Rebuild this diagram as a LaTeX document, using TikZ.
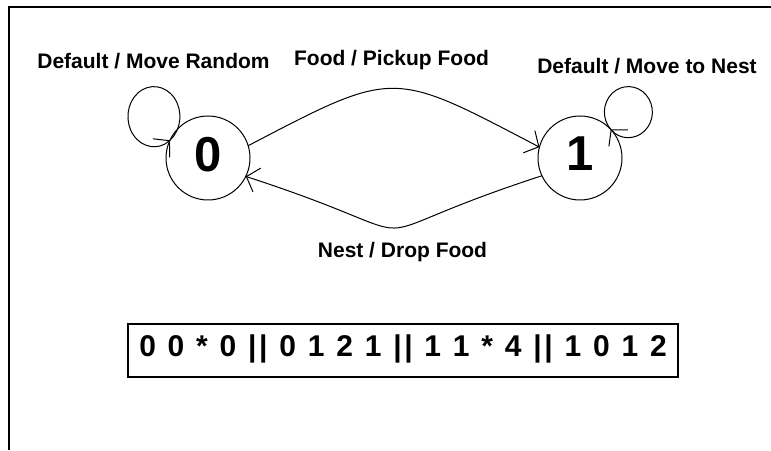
\documentclass[tikz,border=0pt]{standalone}
\usepackage{fontspec}
\setmainfont{Liberation Sans}
\usetikzlibrary{arrows.meta}
\begin{document}
\begin{tikzpicture}[x=1pt,y=1pt,
  state/.style={circle,draw,line width=1pt,minimum size=84pt,inner sep=0pt,outer sep=0pt,
    font=\fontsize{49}{49}\selectfont\bfseries,text depth=8pt},
  trans/.style={line width=1pt,-{Straight Barb[length=11pt,width=25pt,line width=1pt]}},
  lbl/.style={anchor=base,inner sep=0pt,font=\fontsize{21}{25}\selectfont\bfseries},
  tape/.style={draw,line width=1.6pt,minimum width=550pt,minimum height=53pt,inner sep=0pt,
    text height=22pt,text depth=9pt,font=\fontsize{30}{34}\selectfont\bfseries},
  frame/.style={line width=2pt}]
\useasboundingbox (0,0) rectangle (771,450);

% page frame (top and left edges)
\draw[frame] (9,0) -- (9,443) -- (771,443);

% the two states
\node[state] (s0) at (208,292) {0};
\node[state] (s1) at (580,292) {1};

% self loops
\draw[trans] (s0.155) arc[start angle=-52,end angle=308,x radius=26,y radius=30];
\draw[trans] (s1.43) arc[start angle=222.6,end angle=-137.4,x radius=24,y radius=25.5];

% transitions between the states
\draw[trans] (s0.17) .. controls +(27.6:167) and +(152.4:167) .. (s1.165);
\draw[trans] (s1.205) .. controls +(198:224) and +(-18:224) .. (s0.-26);

% transition labels
\node[lbl] (l0) at (153.5,381) {Default / Move Random};
\node[lbl] (l01) at (391.5,384) {Food / Pickup Food};
\node[lbl] (l1) at (647,376) {Default / Move to Nest};
\node[lbl] (l10) at (402.5,192) {Nest / Drop Food};

% encoded rule string
\node[tape] (code) at (403,99.5) {\spaceskip=11.8pt plus 0pt minus 0pt
  0 0 * 0 |\kern2.6pt| 0 1 2 1 |\kern2.6pt| 1 1 * 4 |\kern2.6pt| 1 0 1 2};
\end{tikzpicture}
\end{document}
